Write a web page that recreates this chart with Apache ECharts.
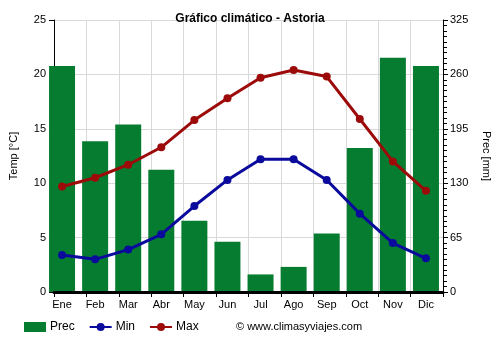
<!DOCTYPE html>
<html>
<head>
<meta charset="utf-8">
<script src="https://cdn.jsdelivr.net/npm/echarts@6/dist/echarts.min.js"></script>
<style>
  html, body { margin: 0; padding: 0; background: #fff; }
  #chart { width: 500px; height: 350px; }
</style>
</head>
<body>
<div id="chart"></div>
<script>
// Monthly climate data for Astoria
const months = ['Ene', 'Feb', 'Mar', 'Abr', 'May', 'Jun', 'Jul', 'Ago', 'Sep', 'Oct', 'Nov', 'Dic'];
const precip = [270, 180, 200, 146, 85, 60, 21, 30, 70, 172, 280, 270];   // mm
const tempMin = [3.4, 3.0, 3.9, 5.3, 7.9, 10.3, 12.2, 12.2, 10.3, 7.2, 4.5, 3.1]; // °C
const tempMax = [9.7, 10.5, 11.7, 13.3, 15.8, 17.8, 19.7, 20.4, 19.8, 15.9, 12.0, 9.3]; // °C
const tempTicks = { min: 0, max: 25, interval: 5 };
const precTicks = { min: 0, max: 325, interval: 65 };

const FONT = 'Arial, "Liberation Sans", sans-serif';
const chart = echarts.init(document.getElementById('chart'), null, { renderer: 'canvas' });

const axisText = { color: '#000', fontSize: 11, fontFamily: FONT };

chart.setOption({
  animation: false,
  backgroundColor: '#fff',
  title: {
    text: 'Gráfico climático - Astoria',
    left: 'center',
    top: 8,
    textStyle: { fontSize: 12, fontWeight: 'bold', color: '#000', fontFamily: FONT }
  },
  grid: [
    // frame grid: axes, gridlines
    { left: 49, right: 54, top: 20, bottom: 58 },
    // data grid: bars, lines, month labels
    { left: 45.5, right: 57.5, top: 20, bottom: 58 }
  ],
  xAxis: [
    {
      type: 'category', gridIndex: 0, data: months, z: 0,
      axisLine: { show: false },
      axisTick: { show: true, length: 5, lineStyle: { color: '#000', width: 1 } },
      axisLabel: { show: false },
      splitLine: { show: true, lineStyle: { color: '#d9d9d9', width: 1 } }
    },
    {
      type: 'category', gridIndex: 1, data: months,
      axisLine: { show: false },
      axisTick: { show: false },
      axisLabel: Object.assign({ margin: 7 }, axisText),
      splitLine: { show: false }
    },
    {
      // thick baseline drawn above the bars
      type: 'category', gridIndex: 0, data: months, z: 6,
      axisLine: { show: true, lineStyle: { color: '#000', width: 3 } },
      axisTick: { show: false },
      axisLabel: { show: false },
      splitLine: { show: false }
    }
  ],
  yAxis: [
    {
      type: 'value', gridIndex: 0, position: 'left',
      min: tempTicks.min, max: tempTicks.max, interval: tempTicks.interval,
      name: 'Temp [°C]', nameLocation: 'middle', nameGap: 35, nameRotate: 90,
      nameTextStyle: { color: '#000', fontSize: 11, fontFamily: FONT },
      axisLine: { show: true, lineStyle: { color: '#000', width: 1 } },
      axisTick: { show: true, length: 5, lineStyle: { color: '#000' } },
      axisLabel: Object.assign({ margin: 8 }, axisText),
      splitLine: { show: true, lineStyle: { color: '#d9d9d9', width: 1 } }
    },
    {
      type: 'value', gridIndex: 0, position: 'right',
      min: precTicks.min, max: precTicks.max, interval: precTicks.interval,
      name: 'Prec [mm]', nameLocation: 'middle', nameGap: 38, nameRotate: -90,
      nameTextStyle: { color: '#000', fontSize: 11, fontFamily: FONT },
      axisLine: { show: true, lineStyle: { color: '#000', width: 1 } },
      axisTick: { show: true, length: 5, lineStyle: { color: '#000' } },
      minorTick: { show: true, splitNumber: 10, length: 4, lineStyle: { color: '#000' } },
      axisLabel: Object.assign({ margin: 7 }, axisText),
      splitLine: { show: false }
    },
    {
      type: 'value', gridIndex: 1, show: false,
      min: tempTicks.min, max: tempTicks.max, interval: tempTicks.interval,
      splitLine: { show: false }
    },
    {
      type: 'value', gridIndex: 1, show: false,
      min: precTicks.min, max: precTicks.max, interval: precTicks.interval,
      splitLine: { show: false }
    }
  ],
  legend: {
    left: 19, top: 316,
    itemWidth: 22, itemHeight: 10, itemGap: 14,
    textStyle: { color: '#000', fontSize: 12, fontFamily: FONT, padding: [0, 0, 0, -1] },
    data: [
      { name: 'Prec', icon: 'rect' },
      { name: 'Min' },
      { name: 'Max' }
    ]
  },
  graphic: [
    {
      type: 'text', left: 236, top: 321,
      style: { text: '© www.climasyviajes.com', fill: '#000', fontSize: 11, fontFamily: FONT }
    }
  ],
  series: [
    {
      name: 'Prec', type: 'bar', xAxisIndex: 1, yAxisIndex: 3,
      data: precip, barWidth: 26,
      itemStyle: { color: '#067c30' }
    },
    {
      name: 'Min', type: 'line', xAxisIndex: 1, yAxisIndex: 2,
      data: tempMin, symbol: 'circle', symbolSize: 8,
      lineStyle: { color: '#0a0a9c', width: 3 },
      itemStyle: { color: '#0a0a9c' }, z: 4
    },
    {
      name: 'Max', type: 'line', xAxisIndex: 1, yAxisIndex: 2,
      data: tempMax, symbol: 'circle', symbolSize: 8,
      lineStyle: { color: '#9c0a0a', width: 3 },
      itemStyle: { color: '#9c0a0a' }, z: 4
    }
  ]
});
</script>
</body>
</html>
